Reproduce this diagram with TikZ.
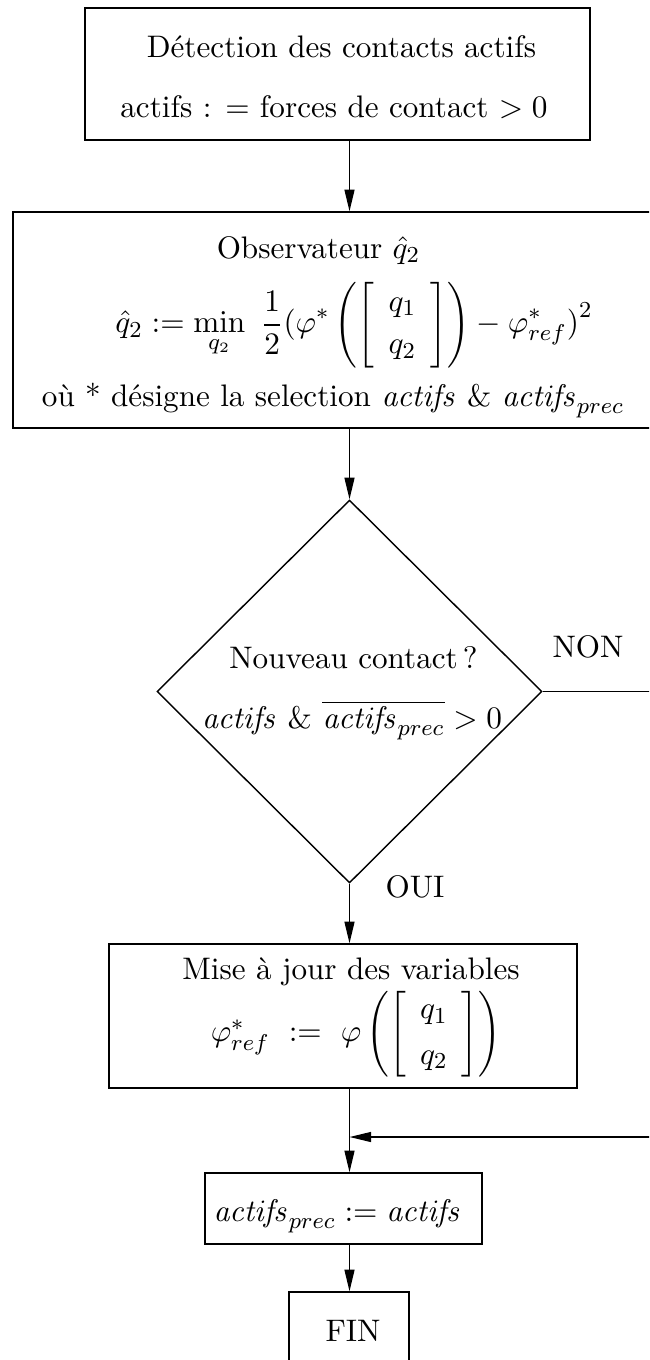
\documentclass[tikz,border=0pt]{standalone}
\usetikzlibrary{arrows.meta,shapes.geometric,fit}
\newcommand\actv{\mathit{actifs}}
\begin{document}
\begin{tikzpicture}[x=0.35pt,y=-0.35pt,
  font=\fontsize{10.9}{13}\selectfont,
  line width=0.5pt,
  box/.style={draw, inner sep=0pt},
  lbl/.style={anchor=base, inner sep=0pt},
  frm/.style={anchor=center, inner sep=0pt},
  arr/.style={-{Triangle[length=7.6pt,width=3.5pt]}}]
\useasboundingbox (0,0) rectangle (649,1360);
\clip (0,0) rectangle (649,1360);
\coordinate (axis) at (349.5,0);
% boxes
\node[box, fit={(85,8) (590,140)}] (b1) {};
\node[box, fit={(13,212) (700,428)}] (b2) {};
\node[draw, diamond, inner sep=0pt, minimum width=134.75pt, minimum height=134.05pt] (dec) at (349.5,691.5) {};
\node[box, fit={(109,944) (577,1088)}] (b3) {};
\node[box, fit={(205,1173) (482,1244)}] (b4) {};
\node[box, fit={(289,1292) (409,1420)}] (fin) {};
% texts
\node[lbl] (t1a) at (341.5,57) {Détection des contacts actifs};
\node[lbl] (t1b) at (334,117) {actifs : $=$ forces de contact $>0$};
\node[lbl] (t2a) at (318.5,258) {Observateur $\hat{q}_2$};
\node[frm] (t2b) at (354,325) {$\displaystyle \hat{q}_2 := \min_{q_2}\ \frac{1}{2}\bigl(\varphi^*\left(\left[\begin{array}{c} q_1\\[2pt] q_2\end{array}\right]\right) - \varphi^*_{ref}\bigr)^2$};
\node[lbl] (t2c) at (333,406) {où * désigne la selection $\actv$ \& $\actv_{prec}$};
\node[lbl] (t3a) at (353.5,668) {Nouveau contact\,?};
\node[lbl] (t3b) at (352,728) {$\actv$ \& $\overline{\actv_{prec}} > 0$};
\node[lbl] (t4a) at (351,979) {Mise à jour des variables};
\node[frm] (t4b) at (356,1034) {$\varphi^*_{ref}\ :=\ \varphi\left(\left[\begin{array}{c} q_1\\[3pt] q_2\end{array}\right]\right)$};
\node[lbl] (t5) at (337.5,1221) {$\actv_{prec} := \actv$};
\node[lbl] (t6) at (353,1341) {FIN};
\node[lbl] (non) at (588,657) {NON};
\node[lbl] (oui) at (415,897) {OUI};
% free ends
\coordinate (nonend) at (700,691.5);
\coordinate (retstart) at (700,1137);
\coordinate (join) at (349.5,1137);
% connectors
\draw[arr] (b1.south -| axis) -- (b2.north -| axis);
\draw[arr] (b2.south -| axis) -- (dec.north);
\draw[arr] (dec.south) -- (b3.north -| axis);
\draw (dec.east) -- (nonend);
\draw[arr] (b3.south -| axis) -- (b4.north -| axis);
\draw[arr] (retstart) -- (join);
\draw[arr] (b4.south -| axis) -- (fin.north -| axis);
\end{tikzpicture}
\end{document}
